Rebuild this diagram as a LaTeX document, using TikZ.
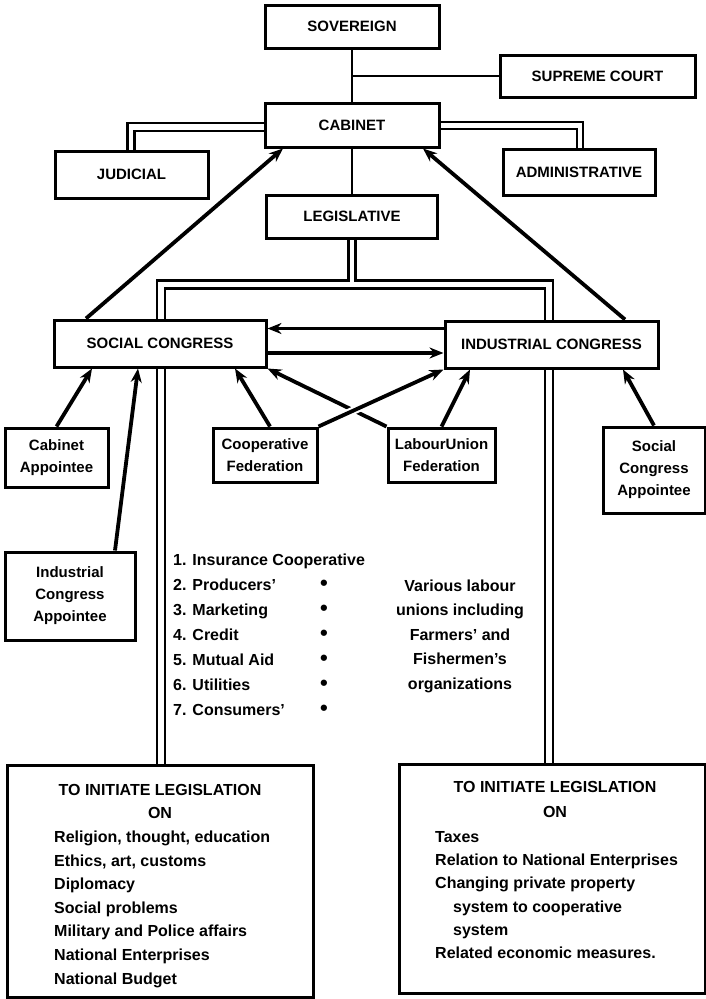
\documentclass[tikz,border=0pt]{standalone}
\usepackage{fontspec}
\setmainfont{Liberation Sans}
\usetikzlibrary{arrows.meta,calc,backgrounds}

\begin{document}
\begin{tikzpicture}[x=1pt, y=-1pt,
  bx/.style={rectangle, draw, line width=3pt, fill=white, align=center,
             font=\bfseries\fontsize{15}{22}\selectfont, inner sep=0pt, minimum width=#1},
  ar/.style={-{Stealth[length=14pt,width=11pt]}, line width=3.8pt},
  ln/.style={line width=2.8pt},
  txt/.style={font=\bfseries\fontsize{16}{22}\selectfont, inner sep=0pt}
]
\useasboundingbox (0,0) rectangle (706,999);

% top of the tree
\node[bx=174, minimum height=43] (sov)   at (352,26.5)  {SOVEREIGN};
\node[bx=195, minimum height=42] (court) at (597.5,76)  {SUPREME COURT};
\node[bx=174, minimum height=44] (cab)   at (352,125)   {CABINET};
\node[bx=153, minimum height=47] (jud)   at (131.5,174.5) {JUDICIAL};
\node[bx=152, minimum height=46] (adm)   at (579,172)   {ADMINISTRATIVE};
\node[bx=171, minimum height=43] (leg)   at (352,216.5) {LEGISLATIVE};

% the two congresses
\node[bx=212, minimum height=47] (soc) at (160,343.5)   {SOCIAL CONGRESS};
\node[bx=213, minimum height=47] (ind) at (551.5,344.5) {INDUSTRIAL CONGRESS};

% electing bodies
\node[bx=103, minimum height=59] (cabapp) at (56.5,457.5) {Cabinet\\Appointee};
\node[bx=130, minimum height=88] (indapp) at (70,596)     {Industrial\\Congress\\Appointee};
\node[bx=104, minimum height=54] (coop)   at (265,455)    {Cooperative\\Federation};
\node[bx=107, minimum height=54] (lab)    at (441.5,455)  {LabourUnion\\Federation};
\node[bx=102, minimum height=86] (socapp) at (654,470)    {Social\\Congress\\Appointee};

% bottom boxes
\node[bx=306, minimum height=232] (lbox) at (160,881)   {};
\node[bx=306, minimum height=229] (rbox) at (552,878.5) {};

\begin{scope}[on background layer]
  \fill[white] (0,0) rectangle (706,999);
  \draw[ln] (sov) -- (cab);
  \draw[ln] (cab) -- (leg);
  \draw[ln] (court.west) -- (court.west -| sov.south);
  % double lines to the side branches
  \draw[ln] ([yshift=2]cab.west) -| ([xshift=-4]jud.north);
  \draw[ln] ([yshift=-6]cab.west) -| ([xshift=3]jud.north);
  \draw[ln] ([yshift=3]cab.east) -| ([xshift=4]adm.north);
  \draw[ln] ([yshift=-4]cab.east) -| ([xshift=-2]adm.north);
  % legislative double line down to both boxes
  \draw[ln] ([xshift=-3.5]leg.south) -- ++(0,41) -| ([xshift=-3]lbox.north);
  \draw[ln] ([xshift=3.5]leg.south) -- ++(0,41) -| ([xshift=1]rbox.north);
  \draw[ln] ([xshift=5]lbox.north) -- ++(0,-475) -| ([xshift=-7]rbox.north);
\end{scope}

% arrows
\draw[ar] ([xshift=-74]soc.north) -- ([xshift=-69]cab.south);
\draw[ar] ([xshift=73.5]ind.north) -- ([xshift=71]cab.south);
\draw[ar] ([yshift=16]ind.west) -- ([yshift=16]ind.west -| soc.east);
\draw[ar] ([yshift=-9.5]soc.east) -- ([yshift=-9.5]soc.east -| ind.west);
\draw[ar] (cabapp.north) -- ([xshift=-68]soc.south);
\draw[ar] ([xshift=45]indapp.north) -- ([xshift=-22]soc.south);
\draw[ar] ([xshift=5]coop.north) -- ([xshift=75]soc.south);
\draw[ar] (lab.north west) -- (soc.south east);
\draw[ar, preaction={draw=white, -, line width=8pt, shorten <=14pt, shorten >=24pt}]
  (coop.north east) -- (ind.south west);
\draw[ar] (lab.north) -- ([xshift=-81.5]ind.south);
\draw[ar] (socapp.north) -- ([xshift=71.5]ind.south);

% cooperative list
\foreach \t [count=\i] in {1. Insurance Cooperative, 2. Producers', 3. Marketing,
    4. Credit, 5. Mutual Aid, 6. Utilities, 7. Consumers'}
  \node[txt, anchor=base west] (co\i) at (173,{565.5+25*(\i-1)}) {\t};
\foreach \i in {2,...,7}
  \node[txt, font=\bfseries\fontsize{22}{22}\selectfont] (dit\i) at (324,{560+25*(\i-1)}) {\textbullet};

\node[txt, align=center, font=\bfseries\fontsize{16}{24.5}\selectfont] (labtxt) at (460,636)
  {Various labour\\unions including\\Farmers' and\\Fishermen's\\organizations};

% left box text
\node[txt, align=center, font=\bfseries\fontsize{16}{23}\selectfont] (lhead) at (160,801.5)
  {TO INITIATE LEGISLATION\\ON};
\foreach \t [count=\i] in {{Religion, thought, education}, {Ethics, art, customs}, Diplomacy,
    Social problems, Military and Police affairs, National Enterprises, National Budget}
  \node[txt, anchor=base west] (lt\i) at (54,{842.5+23.6*(\i-1)}) {\t};

% right box text
\node[txt, align=center, font=\bfseries\fontsize{16}{25}\selectfont] (rhead) at (555,799.5)
  {TO INITIATE LEGISLATION\\ON};
\foreach \t [count=\i] in {Taxes, Relation to National Enterprises, Changing private property,
    \hspace{18pt}system to cooperative, \hspace{18pt}system, Related economic measures.}
  \node[txt, anchor=base west] (rt\i) at (435,{842.5+23.2*(\i-1)}) {\t};

\end{tikzpicture}
\end{document}
